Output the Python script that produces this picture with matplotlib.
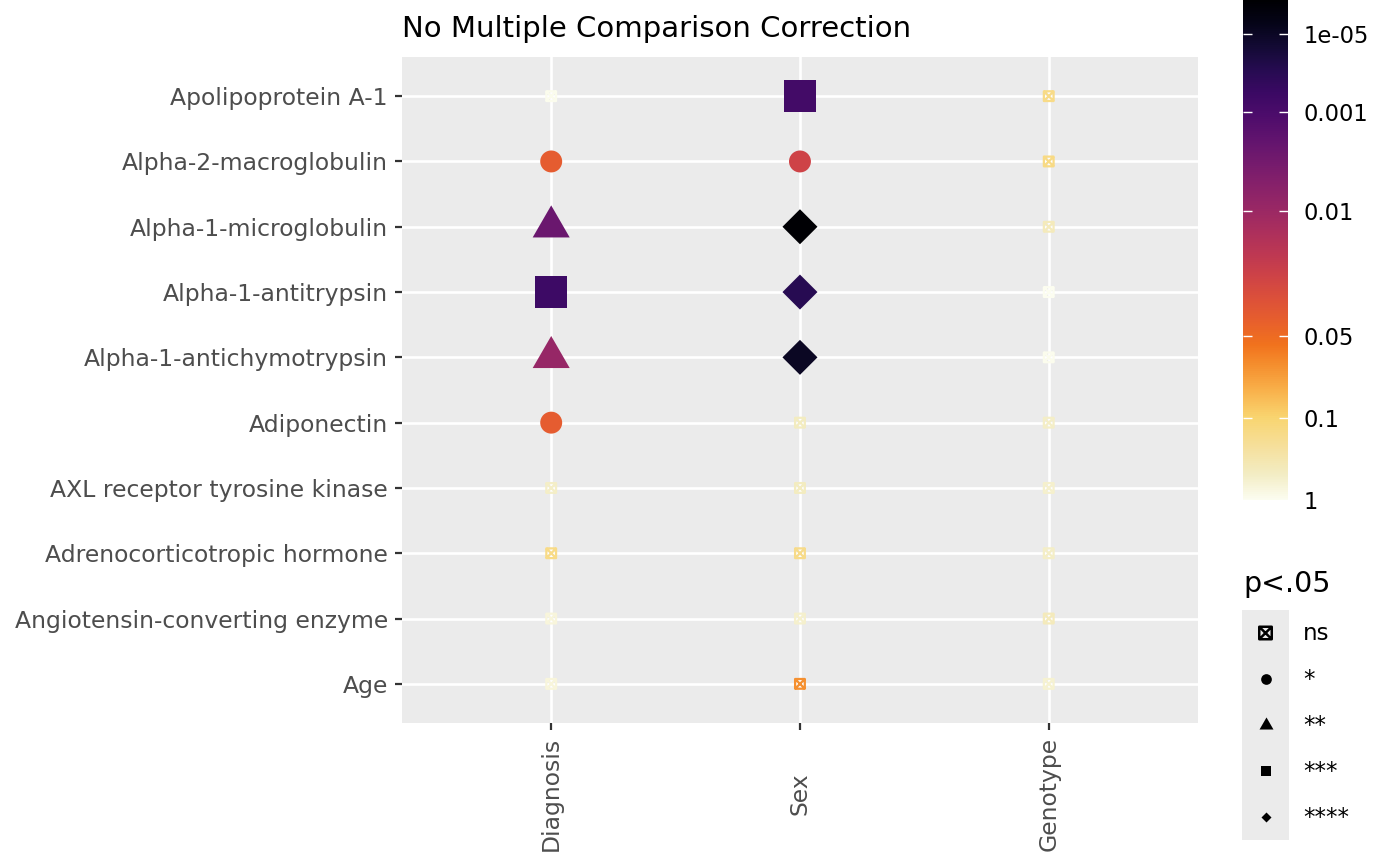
import numpy as np
import matplotlib
matplotlib.use("Agg")
import matplotlib.pyplot as plt
from matplotlib.path import Path
from matplotlib.colors import LinearSegmentedColormap

# data (top row first)
proteins = ["Apolipoprotein A-1", "Alpha-2-macroglobulin", "Alpha-1-microglobulin",
            "Alpha-1-antitrypsin", "Alpha-1-antichymotrypsin", "Adiponectin",
            "AXL receptor tyrosine kinase", "Adrenocorticotropic hormone",
            "Angiotensin-converting enzyme", "Age"]
factors = ["Diagnosis", "Sex", "Genotype"]
p_diagnosis = [0.9, 0.038, 0.0024, 3.6e-4, 0.0087, 0.038, 0.5, 0.15, 0.7, 0.7]
p_sex = [5.7e-4, 0.023, 1.4e-6, 9e-5, 9e-6, 0.45, 0.45, 0.16, 0.55, 0.065]
p_genotype = [0.15, 0.14, 0.4, 0.95, 0.9, 0.5, 0.55, 0.5, 0.4, 0.6]

cbar_breaks = [1, 0.1, 0.05, 0.01, 0.001, 1e-05]
cbar_labels = ["1", "0.1", "0.05", "0.01", "0.001", "1e-05"]
p_floor = 1.35e-6
sig_labels = ["ns", "*", "**", "***", "****"]

# colour scale: -log10(p) -> position on the bar (taken from the reference colourbar)
q_anchor = -np.log10(np.array(cbar_breaks + [p_floor]))
pos_anchor = [0.0, 0.164, 0.328, 0.578, 0.776, 0.932, 1.0]


def p_to_pos(p):
    return np.interp(-np.log10(np.asarray(p)), q_anchor, pos_anchor)


def sig_level(p):
    if p < 1e-4:
        return 4
    if p < 1e-3:
        return 3
    if p < 0.01:
        return 2
    if p < 0.05:
        return 1
    return 0


inferno = plt.get_cmap("inferno")
light = [(0.0, "#FCFDF0"), (0.05, "#F3EDC4"), (0.10, "#F6E1A0"), (0.164, "#F9D570"),
         (0.22, "#F9B04A"), (0.27, "#F58E2E")]
dark = [(c, inferno(1 - c)) for c in np.linspace(0.31, 1.0, 16)]
cmap = LinearSegmentedColormap.from_list("pval", light + dark)

# marker shapes, ggplot-like
box_x = Path([(-1, -1), (1, -1), (1, 1), (-1, 1), (-1, -1), (-1, -1), (1, 1), (-1, 1), (1, -1)],
             [Path.MOVETO, Path.LINETO, Path.LINETO, Path.LINETO, Path.CLOSEPOLY,
              Path.MOVETO, Path.LINETO, Path.MOVETO, Path.LINETO])
tri = Path([(0, 1), (-0.866, -0.5), (0.866, -0.5), (0, 1)], closed=True)
diamond = Path([(0, 1), (1, 0), (0, -1), (-1, 0), (0, 1)], closed=True)
shape_markers = [box_x, "o", tri, "s", diamond]
shape_sizes = [7.0, 15.8, 30.8, 23.0, 25.2]
legend_sizes = [9.0, 7.7, 11.6, 7.4, 7.2]

tick_col = "#333333"
label_col = "#4D4D4D"
panel_bg = "#EBEBEB"

fig = plt.figure(figsize=(14, 8.66), dpi=100)
ax = fig.add_axes([0.2871, 0.1651, 0.5686, 0.7691])
ax.set_facecolor(panel_bg)

n = len(proteins)
ypos = np.arange(n)[::-1]
pvals = [p_diagnosis, p_sex, p_genotype]

xs, ys, ps, lv = [], [], [], []
for j, col in enumerate(pvals):
    for i, p in enumerate(col):
        xs.append(j)
        ys.append(ypos[i])
        ps.append(p)
        lv.append(sig_level(p))
xs, ys, ps, lv = map(np.array, (xs, ys, ps, lv))
colors = cmap(p_to_pos(ps))

for level in range(5):
    m = lv == level
    if not m.any():
        continue
    if level == 0:
        ax.scatter(xs[m], ys[m], s=shape_sizes[0] ** 2, marker=shape_markers[0],
                   facecolors="none", edgecolors=colors[m], linewidths=1.6, zorder=3)
    else:
        ax.scatter(xs[m], ys[m], s=shape_sizes[level] ** 2, marker=shape_markers[level],
                   c=colors[m], linewidths=0, zorder=3)

ax.set_xlim(-0.6, 2.6)
ax.set_ylim(-0.6, n - 0.4)
ax.set_xticks(range(len(factors)))
ax.set_xticklabels(factors, rotation=90)
ax.set_yticks(ypos)
ax.set_yticklabels(proteins)
for s in ax.spines.values():
    s.set_visible(False)
ax.grid(color="white", linewidth=1.9)
ax.set_axisbelow(True)
ax.tick_params(axis="both", colors=tick_col, length=5.2, width=1.6,
               labelsize=16.9, labelcolor=label_col)
ax.tick_params(axis="y", pad=5.0)
ax.tick_params(axis="x", pad=46.0)
for lbl in ax.get_xticklabels():
    lbl.set_va("center")

fig.text(0.2871, 1 - 37 / 866, "No Multiple Comparison Correction",
         fontsize=21, va="baseline", ha="left")

# colourbar
cax = fig.add_axes([0.8879, 1 - 500 / 866, 0.0321, 500 / 866])
grad = np.linspace(0, 1, 512)[:, None]
cax.imshow(grad, origin="lower", aspect="auto", cmap=cmap, extent=[0, 1, 0, 1])
cax.set_xlim(0, 1)
cax.set_ylim(0, 1)
cax.set_xticks([])
cax.set_yticks(pos_anchor[:-1])
cax.set_yticklabels(cbar_labels)
for s in cax.spines.values():
    s.set_visible(False)
cax.tick_params(axis="y", direction="in", left=True, right=True, labelleft=False,
                labelright=True, length=6.5, width=1.0, color="white",
                labelsize=16.3, labelcolor="black", pad=11.5)

# shape legend
fig.text(1243 / 1400, 1 - 592 / 866, "p<.05", fontsize=20.5, ha="left", va="baseline")
lax = fig.add_axes([1242 / 1400, 1 - 840 / 866, 47 / 1400, 230 / 866])
lax.set_facecolor(panel_bg)
lax.set_xlim(0, 1)
lax.set_ylim(0, 5)
lax.set_xticks([])
lax.set_yticks([])
for s in lax.spines.values():
    s.set_visible(False)
for k in range(5):
    yk = 4.5 - k
    if k == 0:
        lax.scatter([0.5], [yk], s=legend_sizes[k] ** 2, marker=shape_markers[k],
                    facecolors="none", edgecolors="black", linewidths=1.8)
    else:
        lax.scatter([0.5], [yk], s=legend_sizes[k] ** 2, marker=shape_markers[k],
                    c="black", linewidths=0)
    fig.text(1303 / 1400, 1 - (633 + 46 * k) / 866, sig_labels[k], fontsize=16.5,
             ha="left", va="center")

fig.savefig("out.png", dpi=100)
